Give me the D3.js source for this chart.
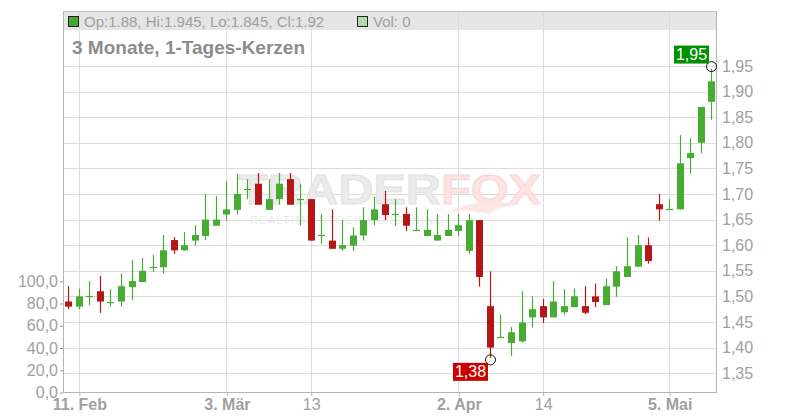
<!DOCTYPE html>
<html><head><meta charset="utf-8">
<script src="https://cdn.jsdelivr.net/npm/d3@7"></script>
<style>html,body{margin:0;padding:0;background:#fff;}svg{display:block;font-family:"Liberation Sans",Arial,sans-serif;}</style>
</head><body>
<svg id="c" width="800" height="420"></svg>
<script>
const dates = ["2025-02-10","2025-02-11","2025-02-12","2025-02-13","2025-02-14","2025-02-17","2025-02-18","2025-02-19","2025-02-20","2025-02-21","2025-02-24","2025-02-25","2025-02-26","2025-02-27","2025-02-28",
"2025-03-03","2025-03-04","2025-03-05","2025-03-06","2025-03-07","2025-03-10","2025-03-11","2025-03-12","2025-03-13","2025-03-14","2025-03-17","2025-03-18","2025-03-19","2025-03-20","2025-03-21","2025-03-24","2025-03-25","2025-03-26","2025-03-27","2025-03-28","2025-03-31",
"2025-04-01","2025-04-02","2025-04-03","2025-04-04","2025-04-07","2025-04-08","2025-04-09","2025-04-10","2025-04-11","2025-04-14","2025-04-15","2025-04-16","2025-04-17","2025-04-22","2025-04-23","2025-04-24","2025-04-25","2025-04-28","2025-04-29","2025-04-30",
"2025-05-02","2025-05-05","2025-05-06","2025-05-07","2025-05-08","2025-05-09"];
const open  = [1.49,1.48,1.50,1.51,1.49,1.49,1.518,1.528,1.558,1.557,1.61,1.59,1.609,1.618,1.638,
1.66,1.669,1.709,1.72,1.669,1.69,1.729,1.69,1.69,1.619,1.609,1.593,1.599,1.619,1.649,1.68,1.661,1.661,1.629,1.618,1.609,
1.618,1.628,1.589,1.649,1.481,1.421,1.409,1.412,1.459,1.481,1.459,1.469,1.479,1.481,1.50,1.483,1.519,1.538,1.558,1.60,
1.68,1.67,1.67,1.77,1.80,1.88];
const high  = [1.52,1.515,1.53,1.54,1.514,1.545,1.571,1.575,1.581,1.62,1.616,1.626,1.639,1.70,1.696,
1.725,1.74,1.729,1.741,1.729,1.741,1.741,1.719,1.69,1.661,1.67,1.649,1.635,1.674,1.695,1.706,1.69,1.674,1.674,1.67,1.661,
1.661,1.661,1.661,1.649,1.549,1.465,1.44,1.51,1.50,1.495,1.53,1.514,1.515,1.52,1.525,1.535,1.559,1.615,1.62,1.615,
1.70,1.69,1.815,1.809,1.87,1.945];
const low   = [1.475,1.475,1.483,1.468,1.48,1.48,1.493,1.528,1.548,1.545,1.583,1.589,1.599,1.61,1.638,
1.648,1.66,1.69,1.679,1.669,1.679,1.679,1.639,1.609,1.603,1.593,1.589,1.589,1.609,1.639,1.649,1.637,1.628,1.629,1.618,1.609,
1.618,1.618,1.583,1.519,1.38,1.42,1.384,1.41,1.439,1.448,1.459,1.464,1.479,1.465,1.479,1.483,1.499,1.538,1.558,1.564,
1.648,1.67,1.67,1.74,1.78,1.845];
const close = [1.48,1.50,1.50,1.49,1.49,1.52,1.53,1.55,1.558,1.59,1.59,1.60,1.62,1.65,1.65,
1.67,1.70,1.709,1.679,1.69,1.72,1.679,1.69,1.609,1.619,1.593,1.60,1.619,1.649,1.67,1.659,1.661,1.638,1.629,1.63,1.62,
1.63,1.639,1.649,1.538,1.40,1.421,1.43,1.449,1.475,1.459,1.49,1.481,1.50,1.468,1.489,1.52,1.549,1.559,1.60,1.569,
1.67,1.67,1.76,1.78,1.87,1.92];
const priceTicks = [1.35,1.40,1.45,1.50,1.55,1.60,1.65,1.70,1.75,1.80,1.85,1.90,1.95];
const volTicks = [0,20,40,60,80,100];
const xTickDates = ["2025-02-11","2025-03-03","2025-03-13","2025-04-02","2025-04-14","2025-05-05"];
const xTickLabels = ["11. Feb","3. Mär","13","2. Apr","14","5. Mai"];
const xTickBold = [true,true,false,true,false,true];
const headerText = "Op:1.88, Hi:1.945, Lo:1.845, Cl:1.92";
const volText = "Vol: 0";
const title = "3 Monate, 1-Tages-Kerzen";
const maxLabel = {date:"2025-05-09", value:1.945, text:"1,95"};
const minLabel = {date:"2025-04-07", value:1.38, text:"1,38"};

const svg = d3.select("#c");
const L = 63, R = 716, T = 11, B = 392;
const GREEN = "#47ad32", RED = "#b51616", GRID = "#dcdcdc", AXIS = "#b4b4b4", TXT = "#a0a0a0";

const x = d3.scalePoint().domain(dates).range([68.3, 711.3]);
const y = d3.scaleLinear().domain([1.35, 1.95]).range([373.2, 66]);
const yv = d3.scaleLinear().domain([0, 100]).range([392.5, 281.3]);
const fmt = d => d3.format(".2f")(d).replace(".", ",");
const fmtV = d => d3.format(".1f")(d).replace(".", ",");
const cx = d => Math.round(x(d));

// header bar
svg.append("rect").attr("x", L).attr("y", T).attr("width", R - L).attr("height", 19).attr("fill", "#e5e5e5");

// horizontal grid
svg.append("g").selectAll("line").data(priceTicks).join("line")
  .attr("x1", L).attr("x2", R)
  .attr("y1", d => Math.round(y(d)) + 0.5).attr("y2", d => Math.round(y(d)) + 0.5)
  .attr("stroke", GRID).attr("stroke-width", 1);
// vertical grid
svg.append("g").selectAll("line").data(xTickDates).join("line")
  .attr("x1", d => cx(d) + 0.5).attr("x2", d => cx(d) + 0.5)
  .attr("y1", T).attr("y2", B)
  .attr("stroke", GRID).attr("stroke-width", 1);

// watermark
const wm = svg.append("g").attr("pointer-events", "none");
wm.append("text").attr("x", 238).attr("y", 204).attr("font-size", 42).attr("font-weight", "bold")
  .attr("textLength", 203).attr("lengthAdjust", "spacingAndGlyphs")
  .attr("fill", "#ebebeb").attr("stroke", "#e0e0e0").attr("stroke-width", 0.8).text("TRADER");
wm.append("text").attr("x", 441).attr("y", 204).attr("font-size", 42).attr("font-weight", "bold")
  .attr("textLength", 100).attr("lengthAdjust", "spacingAndGlyphs")
  .attr("fill", "#fde3e3").attr("stroke", "#fbd4d4").attr("stroke-width", 0.8).text("FOX");
wm.append("text").attr("x", 250).attr("y", 223.5).attr("font-size", 11)
  .attr("textLength", 193).attr("lengthAdjust", "spacing")
  .attr("fill", "#ebebeb").text("REALTIME STOCK SCREENING");
wm.append("path").attr("d", "M448,212 Q480,196 520,205 Q500,206 488,214 Q470,208 448,212 Z")
  .attr("fill", "#fde6e6");

// axes lines
svg.append("line").attr("x1", L + 0.5).attr("x2", L + 0.5).attr("y1", T).attr("y2", B + 0.5).attr("stroke", AXIS);
svg.append("line").attr("x1", R + 0.5).attr("x2", R + 0.5).attr("y1", T).attr("y2", B + 0.5).attr("stroke", AXIS);
svg.append("line").attr("x1", L).attr("x2", R + 1).attr("y1", B + 0.5).attr("y2", B + 0.5).attr("stroke", AXIS);
svg.append("line").attr("x1", L).attr("x2", R + 1).attr("y1", T + 0.5).attr("y2", T + 0.5).attr("stroke", "#c4c4c4");

// header texts
svg.append("rect").attr("x", 68.5).attr("y", 16.5).attr("width", 10).attr("height", 10)
  .attr("fill", "#46a82e").attr("stroke", "#222");
svg.append("text").attr("x", 84).attr("y", 26.5).attr("font-size", 15).attr("fill", TXT).text(headerText);
svg.append("rect").attr("x", 357.5).attr("y", 16.5).attr("width", 10).attr("height", 10)
  .attr("fill", "#acdcac").attr("stroke", "#222");
svg.append("text").attr("x", 373).attr("y", 26.5).attr("font-size", 15).attr("fill", TXT).text(volText);
svg.append("text").attr("x", 72).attr("y", 54).attr("font-size", 19).attr("font-weight", "bold")
  .attr("fill", "#8c8c8c").text(title);

// right price axis
const ra = svg.append("g").attr("transform", `translate(${R},0)`)
  .call(d3.axisRight(y).tickValues(priceTicks).tickFormat(fmt).tickSize(0).tickPadding(6));
ra.select(".domain").remove();
ra.selectAll("text").attr("font-size", 16).attr("fill", TXT).attr("font-family", "Liberation Sans, Arial, sans-serif");

// left volume axis
const la = svg.append("g").attr("transform", `translate(${L},0)`)
  .call(d3.axisLeft(yv).tickValues(volTicks).tickFormat(fmtV).tickSize(3).tickPadding(2));
la.select(".domain").remove();
la.selectAll("line").attr("stroke", "#999");
la.selectAll("text").attr("font-size", 16).attr("fill", TXT).attr("font-family", "Liberation Sans, Arial, sans-serif");

// bottom axis
const xa = svg.append("g").attr("transform", `translate(0.5,${B})`)
  .call(d3.axisBottom(x).tickValues(xTickDates).tickFormat((d, i) => xTickLabels[i]).tickSize(4).tickPadding(3));
xa.select(".domain").remove();
xa.selectAll("line").attr("stroke", AXIS);
xa.selectAll("text").attr("font-size", 16).attr("fill", TXT)
  .attr("font-family", "Liberation Sans, Arial, sans-serif")
  .attr("font-weight", (d, i) => xTickBold[i] ? "bold" : "normal");

// candles
const data = dates.map((d, i) => ({d, o: open[i], h: high[i], l: low[i], c: close[i]}));
const g = svg.append("g");
data.forEach(k => {
  const col = k.c >= k.o ? GREEN : RED;
  const xc = cx(k.d);
  g.append("line").attr("x1", xc + 0.5).attr("x2", xc + 0.5)
    .attr("y1", y(k.h)).attr("y2", y(k.l)).attr("stroke", col).attr("stroke-width", 1.2);
  const top = y(Math.max(k.o, k.c)), bot = y(Math.min(k.o, k.c));
  if (bot - top < 1.5) {
    g.append("line").attr("x1", xc - 3).attr("x2", xc + 4)
      .attr("y1", Math.round(top) + 0.5).attr("y2", Math.round(top) + 0.5).attr("stroke", col).attr("stroke-width", 1.2);
  } else {
    g.append("rect").attr("x", xc - 3).attr("y", top).attr("width", 7).attr("height", bot - top).attr("fill", col);
  }
});

// extreme markers
[maxLabel, minLabel].forEach((m, i) => {
  svg.append("circle").attr("cx", cx(m.date) + 0.5).attr("cy", y(m.value) + (i === 0 ? -2 : 2))
    .attr("r", 5).attr("fill", "none").attr("stroke", "#111").attr("stroke-width", 1);
});
const bw = 35, bh = 18;
svg.append("rect").attr("x", cx(maxLabel.date) - 37).attr("y", y(maxLabel.value) - 23).attr("width", bw).attr("height", bh).attr("fill", "#009000");
svg.append("text").attr("x", cx(maxLabel.date) - 37 + bw / 2).attr("y", y(maxLabel.value) - 8.5).attr("text-anchor", "middle")
  .attr("font-size", 16).attr("fill", "#fff").text(maxLabel.text);
svg.append("rect").attr("x", cx(minLabel.date) - 37).attr("y", y(minLabel.value) + 5).attr("width", bw).attr("height", bh).attr("fill", "#cc0000");
svg.append("text").attr("x", cx(minLabel.date) - 37 + bw / 2).attr("y", y(minLabel.value) + 19.5).attr("text-anchor", "middle")
  .attr("font-size", 16).attr("fill", "#fff").text(minLabel.text);
</script>
</body></html>
